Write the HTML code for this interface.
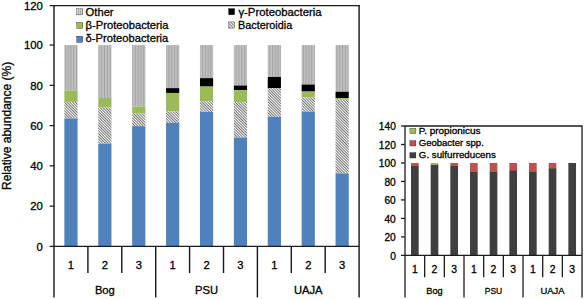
<!DOCTYPE html>
<html><head><meta charset="utf-8"><title>Relative abundance chart</title>
<style>html,body{margin:0;padding:0;background:#fff;}body{width:584px;height:299px;overflow:hidden;position:relative;font-family:"Liberation Sans", sans-serif;}</style>
</head><body>
<svg width="584" height="299" viewBox="0 0 584 299" style="position:absolute;left:0;top:0">
<defs>
<pattern id="oth" patternUnits="userSpaceOnUse" width="2.8" height="4" x="0.4" y="0">
<rect width="2.8" height="4" fill="#c2c2c2"/><rect x="0" width="1.1" height="4" fill="#a3a3a3"/></pattern>
<pattern id="hat" patternUnits="userSpaceOnUse" width="1.95" height="3" patternTransform="rotate(-45)">
<rect width="1.95" height="3" fill="#ffffff"/><rect width="0.85" height="3" fill="#5a5a5a"/></pattern>
<pattern id="othS" patternUnits="userSpaceOnUse" width="2" height="4">
<rect width="2" height="4" fill="#d2d2d2"/><rect width="1" height="4" fill="#acacac"/></pattern>
<pattern id="hatS" patternUnits="userSpaceOnUse" width="2.1" height="2" patternTransform="rotate(-45)">
<rect width="2.1" height="2" fill="#fff"/><rect width="0.9" height="2" fill="#5e5e5e"/></pattern>
</defs>
<rect width="584" height="299" fill="#ffffff"/>
<rect x="64.35" y="45.06" width="13.20" height="45.39" fill="url(#oth)"/>
<rect x="64.35" y="90.45" width="13.20" height="11.50" fill="#9bbb59"/>
<rect x="64.35" y="101.95" width="13.20" height="16.50" fill="url(#hat)"/>
<rect x="64.35" y="118.45" width="13.20" height="127.95" fill="#4f81bd"/>
<rect x="98.25" y="45.06" width="13.20" height="52.99" fill="url(#oth)"/>
<rect x="98.25" y="98.05" width="13.20" height="9.50" fill="#9bbb59"/>
<rect x="98.25" y="107.55" width="13.20" height="36.10" fill="url(#hat)"/>
<rect x="98.25" y="143.65" width="13.20" height="102.75" fill="#4f81bd"/>
<rect x="132.15" y="45.06" width="13.20" height="61.49" fill="url(#oth)"/>
<rect x="132.15" y="106.55" width="13.20" height="7.00" fill="#9bbb59"/>
<rect x="132.15" y="113.55" width="13.20" height="12.60" fill="url(#hat)"/>
<rect x="132.15" y="126.15" width="13.20" height="120.25" fill="#4f81bd"/>
<rect x="166.05" y="45.06" width="13.20" height="43.09" fill="url(#oth)"/>
<rect x="166.05" y="88.15" width="13.20" height="4.80" fill="#000000"/>
<rect x="166.05" y="92.95" width="13.20" height="18.50" fill="#9bbb59"/>
<rect x="166.05" y="111.45" width="13.20" height="11.50" fill="url(#hat)"/>
<rect x="166.05" y="122.95" width="13.20" height="123.45" fill="#4f81bd"/>
<rect x="199.95" y="45.06" width="13.20" height="33.09" fill="url(#oth)"/>
<rect x="199.95" y="78.15" width="13.20" height="8.40" fill="#000000"/>
<rect x="199.95" y="86.55" width="13.20" height="14.70" fill="#9bbb59"/>
<rect x="199.95" y="101.25" width="13.20" height="10.60" fill="url(#hat)"/>
<rect x="199.95" y="111.85" width="13.20" height="134.55" fill="#4f81bd"/>
<rect x="233.85" y="45.06" width="13.20" height="40.49" fill="url(#oth)"/>
<rect x="233.85" y="85.55" width="13.20" height="4.60" fill="#000000"/>
<rect x="233.85" y="90.15" width="13.20" height="12.00" fill="#9bbb59"/>
<rect x="233.85" y="102.15" width="13.20" height="35.40" fill="url(#hat)"/>
<rect x="233.85" y="137.55" width="13.20" height="108.85" fill="#4f81bd"/>
<rect x="267.75" y="45.06" width="13.20" height="31.89" fill="url(#oth)"/>
<rect x="267.75" y="76.95" width="13.20" height="11.30" fill="#000000"/>
<rect x="267.75" y="88.25" width="13.20" height="28.70" fill="url(#hat)"/>
<rect x="267.75" y="116.95" width="13.20" height="129.45" fill="#4f81bd"/>
<rect x="301.65" y="45.06" width="13.20" height="39.49" fill="url(#oth)"/>
<rect x="301.65" y="84.55" width="13.20" height="7.00" fill="#000000"/>
<rect x="301.65" y="91.55" width="13.20" height="6.00" fill="#9bbb59"/>
<rect x="301.65" y="97.55" width="13.20" height="14.10" fill="url(#hat)"/>
<rect x="301.65" y="111.65" width="13.20" height="134.75" fill="#4f81bd"/>
<rect x="335.55" y="45.06" width="13.20" height="46.69" fill="url(#oth)"/>
<rect x="335.55" y="91.75" width="13.20" height="6.40" fill="#000000"/>
<rect x="335.55" y="98.15" width="13.20" height="1.60" fill="#9bbb59"/>
<rect x="335.55" y="99.75" width="13.20" height="73.70" fill="url(#hat)"/>
<rect x="335.55" y="173.45" width="13.20" height="72.95" fill="#4f81bd"/>
<g stroke="#1c1c1c" fill="none" stroke-linecap="butt">
<path stroke-width="1.25" d="M49.6,5.6 H359.83"/>
<path stroke-width="1.45" d="M359.1,5.6 V297.5"/>
<path stroke-width="1.45" d="M54.0,5.6 V297.5"/>
<path stroke-width="1.25" d="M49.6,246.4 H359.1"/>
<path stroke-width="1.25" d="M49.6,206.13 H54.0"/>
<path stroke-width="1.25" d="M49.6,165.86 H54.0"/>
<path stroke-width="1.25" d="M49.6,125.60 H54.0"/>
<path stroke-width="1.25" d="M49.6,85.33 H54.0"/>
<path stroke-width="1.25" d="M49.6,45.06 H54.0"/>
<path stroke-width="1.45" d="M87.90,246.4 V273.0"/>
<path stroke-width="1.45" d="M121.80,246.4 V273.0"/>
<path stroke-width="1.45" d="M155.70,246.4 V297.5"/>
<path stroke-width="1.45" d="M189.60,246.4 V273.0"/>
<path stroke-width="1.45" d="M223.50,246.4 V273.0"/>
<path stroke-width="1.45" d="M257.40,246.4 V297.5"/>
<path stroke-width="1.45" d="M291.30,246.4 V273.0"/>
<path stroke-width="1.45" d="M325.20,246.4 V273.0"/>
</g>
<g font-family='"Liberation Sans", sans-serif' font-size="11.3" fill="#000" stroke="#000" stroke-width="0.3" text-anchor="end">
<text x="42.8" y="250.70">0</text>
<text x="42.8" y="210.43">20</text>
<text x="42.8" y="170.16">40</text>
<text x="42.8" y="129.90">60</text>
<text x="42.8" y="89.63">80</text>
<text x="42.8" y="49.36">100</text>
<text x="42.8" y="9.60">120</text>
</g>
<g font-family='"Liberation Sans", sans-serif' font-size="11.2" fill="#000" stroke="#000" stroke-width="0.3" text-anchor="middle">
<text x="70.95" y="268.8">1</text>
<text x="104.85" y="268.8">2</text>
<text x="138.75" y="268.8">3</text>
<text x="172.65" y="268.8">1</text>
<text x="206.55" y="268.8">2</text>
<text x="240.45" y="268.8">3</text>
<text x="274.35" y="268.8">1</text>
<text x="308.25" y="268.8">2</text>
<text x="342.15" y="268.8">3</text>
<text x="104.85" y="294.3">Bog</text>
<text x="206.55" y="294.3">PSU</text>
<text x="308.25" y="294.3">UAJA</text>
</g>
<text font-family='"Liberation Sans", sans-serif' font-size="12.6" fill="#000" stroke="#000" stroke-width="0.3" text-anchor="middle" transform="translate(11.0,125.9) rotate(-90)" textLength="128.2" lengthAdjust="spacingAndGlyphs">Relative abundance (%)</text>
<g font-family='"Liberation Sans", sans-serif' font-size="11.2" fill="#000" stroke="#000" stroke-width="0.3">
<rect x="76.8" y="8.70" width="6" height="6.2" fill="url(#othS)"/>
<text x="85.6" y="15.5">Other</text>
<rect x="76.8" y="22.30" width="6" height="6.2" fill="#9bbb59"/>
<text x="85.6" y="28.8">β-Proteobacteria</text>
<rect x="76.8" y="36.20" width="6" height="6.2" fill="#4f81bd"/>
<text x="85.6" y="42.3">δ-Proteobacteria</text>
<rect x="228.6" y="8.60" width="6" height="6.2" fill="#000000"/>
<text x="238.4" y="15.5" textLength="83.2" lengthAdjust="spacingAndGlyphs">γ-Proteobacteria</text>
<rect x="228.6" y="21.90" width="6" height="6.2" fill="url(#hatS)"/>
<text x="238.0" y="28.8" textLength="54.2" lengthAdjust="spacingAndGlyphs">Bacteroidia</text>
</g>
<rect x="411.00" y="162.97" width="7.67" height="3.03" fill="#c0504d"/>
<rect x="411.00" y="166.00" width="7.67" height="89.40" fill="#3f3f3f"/>
<rect x="430.67" y="162.97" width="7.67" height="1.83" fill="#9bbb59"/>
<rect x="430.67" y="164.80" width="7.67" height="90.60" fill="#3f3f3f"/>
<rect x="450.34" y="162.97" width="7.67" height="3.03" fill="#c0504d"/>
<rect x="450.34" y="166.00" width="7.67" height="89.40" fill="#3f3f3f"/>
<rect x="470.01" y="162.97" width="7.67" height="9.03" fill="#c0504d"/>
<rect x="470.01" y="172.00" width="7.67" height="83.40" fill="#3f3f3f"/>
<rect x="489.68" y="162.97" width="7.67" height="9.03" fill="#c0504d"/>
<rect x="489.68" y="172.00" width="7.67" height="83.40" fill="#3f3f3f"/>
<rect x="509.35" y="162.97" width="7.67" height="7.23" fill="#c0504d"/>
<rect x="509.35" y="170.20" width="7.67" height="85.20" fill="#3f3f3f"/>
<rect x="529.02" y="162.97" width="7.67" height="9.03" fill="#c0504d"/>
<rect x="529.02" y="172.00" width="7.67" height="83.40" fill="#3f3f3f"/>
<rect x="548.69" y="162.97" width="7.67" height="5.23" fill="#c0504d"/>
<rect x="548.69" y="168.20" width="7.67" height="87.20" fill="#3f3f3f"/>
<rect x="568.36" y="163.00" width="7.67" height="92.40" fill="#3f3f3f"/>
<g stroke="#1c1c1c" stroke-width="1.3" fill="none">
<path d="M405.0,126.0 H582.03 V297.5"/>
<path d="M405.0,126.0 V297.5"/>
<path d="M401,255.4 H582.03"/>
<path d="M401,236.91 H405.0"/>
<path d="M401,218.43 H405.0"/>
<path d="M401,199.94 H405.0"/>
<path d="M401,181.46 H405.0"/>
<path d="M401,162.97 H405.0"/>
<path d="M401,144.48 H405.0"/>
<path d="M401,126.00 H405.0"/>
<path d="M424.67,255.4 V277.2"/>
<path d="M444.34,255.4 V277.2"/>
<path d="M464.01,255.4 V297.5"/>
<path d="M483.68,255.4 V277.2"/>
<path d="M503.35,255.4 V277.2"/>
<path d="M523.02,255.4 V297.5"/>
<path d="M542.69,255.4 V277.2"/>
<path d="M562.36,255.4 V277.2"/>
</g>
<g font-family='"Liberation Sans", sans-serif' font-size="10.2" fill="#000" stroke="#000" stroke-width="0.3" text-anchor="end">
<text x="395.8" y="259.60">0</text>
<text x="395.8" y="241.11">20</text>
<text x="395.8" y="222.63">40</text>
<text x="395.8" y="204.14">60</text>
<text x="395.8" y="185.66">80</text>
<text x="395.8" y="167.17">100</text>
<text x="395.8" y="148.68">120</text>
<text x="395.8" y="130.20">140</text>
</g>
<g font-family='"Liberation Sans", sans-serif' font-size="10.4" fill="#000" stroke="#000" stroke-width="0.3" text-anchor="middle">
<text x="414.83" y="273.2">1</text>
<text x="434.50" y="273.2">2</text>
<text x="454.18" y="273.2">3</text>
<text x="473.85" y="273.2">1</text>
<text x="493.51" y="273.2">2</text>
<text x="513.18" y="273.2">3</text>
<text x="532.86" y="273.2">1</text>
<text x="552.52" y="273.2">2</text>
<text x="572.20" y="273.2">3</text>
</g>
<g font-family='"Liberation Sans", sans-serif' font-size="9.9" fill="#000" stroke="#000" stroke-width="0.3" text-anchor="middle">
<text x="434.50" y="294.2" textLength="16.4" lengthAdjust="spacingAndGlyphs">Bog</text>
<text x="493.51" y="294.2" textLength="17.5" lengthAdjust="spacingAndGlyphs">PSU</text>
<text x="552.52" y="294.2" textLength="24.0" lengthAdjust="spacingAndGlyphs">UAJA</text>
</g>
<g font-family='"Liberation Sans", sans-serif' font-size="9.3" fill="#000" stroke="#000" stroke-width="0.3">
<rect x="409.9" y="128.30" width="6.0" height="5.4" fill="#9bbb59"/>
<text x="418.8" y="134.1" textLength="61.6" lengthAdjust="spacingAndGlyphs">P. propionicus</text>
<rect x="409.9" y="140.60" width="6.0" height="5.4" fill="#c0504d"/>
<text x="418.8" y="146.3" textLength="65.0" lengthAdjust="spacingAndGlyphs">Geobacter spp.</text>
<rect x="409.9" y="152.60" width="6.0" height="5.4" fill="#3f3f3f"/>
<text x="418.8" y="158.4" textLength="77.0" lengthAdjust="spacingAndGlyphs">G. sulfurreducens</text>
</g>
</svg>
</body></html>
